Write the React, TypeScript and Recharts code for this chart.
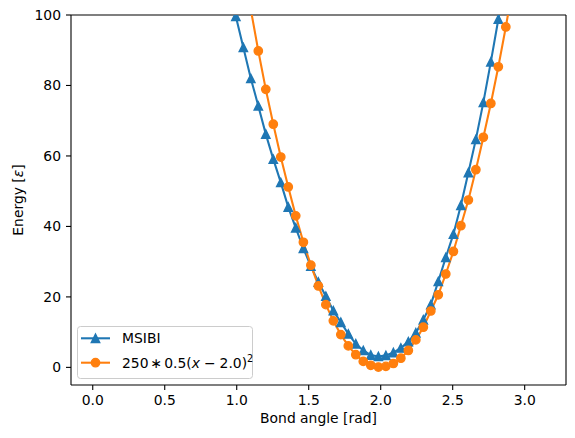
import React from 'react';
import { LineChart, Line, XAxis, YAxis, Legend, ReferenceLine, Label } from 'recharts';

// bond angles (rad) shared by both curves
const angles = [
  0.942, 0.994, 1.046, 1.098, 1.15, 1.202, 1.254, 1.306, 1.358, 1.41, 1.463, 1.515, 1.567,
  1.619, 1.671, 1.723, 1.775, 1.827, 1.879, 1.931, 1.984, 2.036, 2.088, 2.14, 2.192, 2.244,
  2.296, 2.348, 2.4, 2.452, 2.505, 2.557, 2.609, 2.661, 2.713, 2.765, 2.817, 2.869, 2.921,
];

const msibi = [
  109, 99.6, 90.8, 82.0, 74.2, 66.2, 59.1, 52.5, 45.5, 39.6, 33.8, 28.7, 24.2, 20.2, 16.1,
  12.8, 9.5, 6.7, 4.8, 3.5, 3.1, 3.4, 4.2, 5.5, 7.3, 9.8, 13.5, 17.8, 24.4, 31.2, 37.8, 46.0,
  55.3, 64.7, 75.2, 86.7, 98.8, 111, null,
];

const harmonic = [
  null, null, null, 101.5, 89.8, 78.9, 69.0, 59.7, 51.2, 43.0, 35.5, 29.0, 23.1, 17.8, 13.2,
  9.3, 6.1, 3.6, 1.7, 0.6, 0.1, 0.3, 1.1, 2.6, 4.8, 7.8, 11.4, 16.0, 20.6, 26.5, 32.9, 40.2,
  47.5, 56.1, 65.3, 74.9, 85.3, 96.6, 108.8,
];

const xTicks = [0, 0.5, 1, 1.5, 2, 2.5, 3];
const yTicks = [0, 20, 40, 60, 80, 100];
const xDomain = [-0.151, 3.287];
const yDomain = [-5, 100];

const BLUE = '#1f77b4';
const ORANGE = '#ff7f0e';
const FONT = 'DejaVu Sans';

const data = angles.map((x, i) => ({ x, msibi: msibi[i], harmonic: harmonic[i] }));

const Triangle = (props: any) => {
  const { cx, cy, key } = props;
  if (cx == null || cy == null) return null;
  const s = 4.17;
  return (
    <polygon
      key={key}
      points={`${cx},${cy - s} ${cx - s},${cy + s} ${cx + s},${cy + s}`}
      fill={BLUE}
      stroke={BLUE}
      strokeWidth={1.4}
    />
  );
};

const Circle = (props: any) => {
  const { cx, cy, key } = props;
  if (cx == null || cy == null) return null;
  return <circle key={key} cx={cx} cy={cy} r={4.17} fill={ORANGE} stroke={ORANGE} strokeWidth={1.4} />;
};

const renderLegend = () => (
  <svg width={178} height={55} style={{ display: 'block' }}>
    <rect x={0.5} y={0.5} width={175} height={52} rx={3} fill="#fff" fillOpacity={0.8} stroke="#cccccc" />
    <line x1={4} y1={12.3} x2={33} y2={12.3} stroke={BLUE} strokeWidth={2.08} />
    <polygon points="18.5,8.1 14.3,16.5 22.7,16.5" fill={BLUE} stroke={BLUE} strokeWidth={1.4} />
    <text x={45} y={17.3} fontFamily={FONT} fontSize={13.9} fill="#000">
      MSIBI
    </text>
    <line x1={4} y1={36.7} x2={33} y2={36.7} stroke={ORANGE} strokeWidth={2.08} />
    <circle cx={18.5} cy={36.7} r={4.17} fill={ORANGE} stroke={ORANGE} strokeWidth={1.4} />
    <text x={45} y={42} fontFamily={FONT} fontSize={13.9} fill="#000">
      250<tspan dx={2}>∗</tspan>
      <tspan dx={2}>0.5(</tspan>
      <tspan fontStyle="italic">x</tspan>
      <tspan dx={4}>−</tspan>
      <tspan dx={4}>2.0)</tspan>
      <tspan dy={-6} fontSize={9.7}>2</tspan>
    </text>
  </svg>
);

const YLabel = () => (
  <text
    x={18}
    y={200}
    dy="0.35em"
    transform="rotate(-90, 18, 200)"
    textAnchor="middle"
    fontFamily={FONT}
    fontSize={13.9}
    fill="#000"
  >
    Energy [<tspan fontStyle="italic">ε</tspan>]
  </text>
);

const XLabel = () => (
  <text x={318.5} y={423} textAnchor="middle" fontFamily={FONT} fontSize={13.9} fill="#000">
    Bond angle [rad]
  </text>
);

export default function App() {
  const tickStyle = { fontFamily: FONT, fontSize: 13.9, fill: '#000' };
  return (
    <div>
      <style>{'body{margin:0}'}</style>
      <LineChart width={575} height={438} data={data} margin={{ top: 15, right: 9, left: 0, bottom: 0 }}>
        <XAxis
          dataKey="x"
          type="number"
          domain={xDomain}
          allowDataOverflow
          ticks={xTicks}
          tickFormatter={(v: number) => v.toFixed(1)}
          height={53}
          tick={tickStyle}
          tickSize={5}
          tickMargin={5}
          axisLine={{ stroke: '#000', strokeWidth: 1.1 }}
          tickLine={{ stroke: '#000', strokeWidth: 1.1 }}
        >
          <Label content={XLabel} />
        </XAxis>
        <YAxis
          type="number"
          domain={yDomain}
          allowDataOverflow
          ticks={yTicks}
          width={71}
          tick={tickStyle}
          tickSize={5}
          tickMargin={5}
          axisLine={{ stroke: '#000', strokeWidth: 1.1 }}
          tickLine={{ stroke: '#000', strokeWidth: 1.1 }}
        >
          <Label content={YLabel} />
        </YAxis>
        <ReferenceLine y={100} stroke="#000" strokeWidth={1.1} />
        <ReferenceLine x={xDomain[1]} stroke="#000" strokeWidth={1.1} />
        <Line
          type="linear"
          dataKey="msibi"
          name="MSIBI"
          stroke={BLUE}
          strokeWidth={2.08}
          dot={Triangle}
          activeDot={false}
          isAnimationActive={false}
        />
        <Line
          type="linear"
          dataKey="harmonic"
          name="250*0.5(x-2.0)^2"
          stroke={ORANGE}
          strokeWidth={2.08}
          dot={Circle}
          activeDot={false}
          isAnimationActive={false}
        />
        <Legend
          layout="vertical"
          align="center"
          verticalAlign="middle"
          wrapperStyle={{ left: 77, top: 326, width: 178, height: 55 }}
          content={renderLegend}
        />
      </LineChart>
    </div>
  );
}
